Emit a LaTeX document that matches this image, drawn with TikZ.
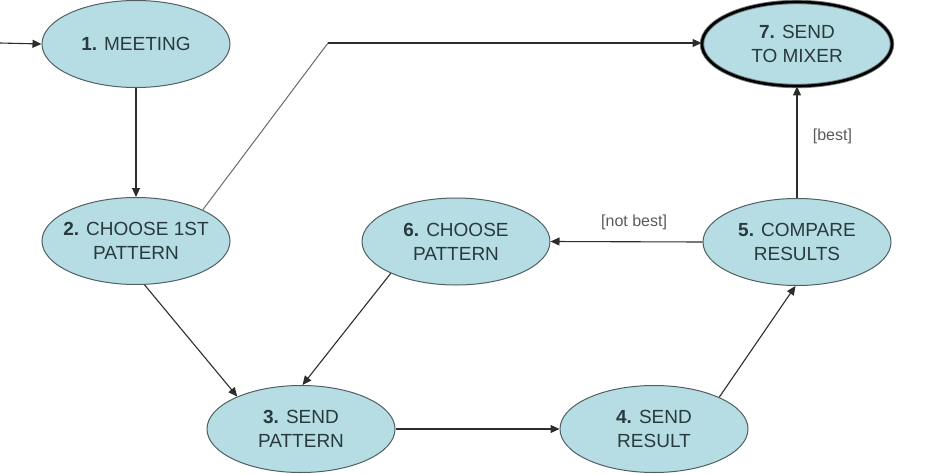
\documentclass[tikz,border=0pt]{standalone}
\usepackage{fontspec}
\setmainfont{Liberation Sans}
\usetikzlibrary{shapes.geometric,arrows.meta}
\definecolor{nodefill}{RGB}{182,221,227}
\definecolor{nodeline}{RGB}{80,96,98}
\definecolor{nodetext}{RGB}{40,58,62}
\definecolor{edgecol}{RGB}{45,45,45}
\definecolor{lblcol}{RGB}{90,90,90}
\begin{document}
\begin{tikzpicture}[x=1pt,y=-1pt,
  state/.style={ellipse, draw=nodeline, line width=1pt, fill=nodefill,
    minimum width=188pt, minimum height=87pt, inner xsep=-14pt, inner ysep=-4pt, align=center,
    text=nodetext, font=\fontsize{19}{24}\selectfont},
  finalstate/.style={state, draw=nodeline!80, double=black, double distance=2.6pt, line width=0.9pt,
    minimum width=190pt, minimum height=84pt},
  flow/.style={draw=edgecol, line width=1.1pt, -{Triangle[length=9pt,width=8pt]}},
  lbl/.style={text=lblcol, font=\fontsize{16}{19}\selectfont}
]
\useasboundingbox (0,0) rectangle (927,474);

\node[state] (n1) at (136,44) {\textbf{1.} MEETING};
\node[state] (n2) at (136,241) {\textbf{2.} CHOOSE 1ST\\PATTERN};
\node[state] (n3) at (301,429) {\textbf{3.} SEND\\PATTERN};
\node[state] (n4) at (654,429) {\textbf{4.} SEND\\RESULT};
\node[state] (n5) at (797,242) {\textbf{5.} COMPARE\\RESULTS};
\node[state] (n6) at (456,241.5) {\textbf{6.} CHOOSE\\PATTERN};
\node[finalstate] (n7) at (797,44) {\textbf{7.} SEND\\TO MIXER};

\coordinate (start) at (0,43);
\coordinate (corner) at (328,43);

\draw[flow] (start) -- (n1.west);
\draw[flow] (n1) -- (n2);
\draw[draw=edgecol!70, line width=1pt] (n2.25) -- (corner);
\draw[flow] (corner) -- (n7.west |- corner);
\draw[flow] (n2.-79) -- (n3.153);
\draw[flow] (n6.206) -- (n3.88);
\draw[flow] (n3.east) -- (n4.west);
\draw[flow] (n4.26) -- (n5.-92);
\draw[flow] (n5.west) -- node[lbl, above=8pt, pos=0.45] (lnb) {[not best]} (n6.east);
\draw[flow] (n5) -- node[lbl, right=12pt, pos=0.55] (lb) {[best]} (n7);
\end{tikzpicture}
\end{document}
